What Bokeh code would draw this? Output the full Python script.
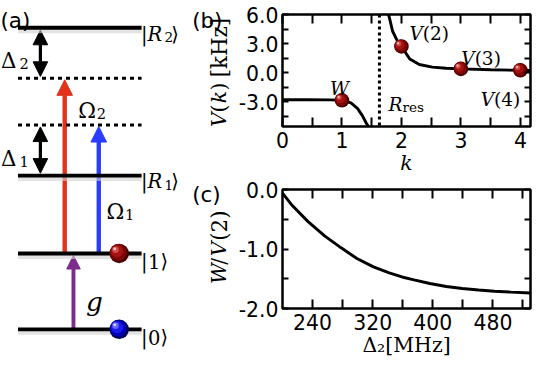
from math import pi
from bokeh.plotting import figure
from bokeh.models import (Range1d, FixedTicker, PrintfTickFormatter, LinearAxis,
                          Arrow, NormalHead, Span, CustomJSTickFormatter)
from bokeh.layouts import row, column
from bokeh.embed import file_html
from bokeh.resources import INLINE
from bokeh.core.properties import value

# ---------------- data ----------------
# panel (b): V(k) [kHz] versus k
k_left = [0.0, 0.4, 0.8, 1.0, 1.15, 1.26, 1.34, 1.41, 1.45]
V_left = [-2.78, -2.78, -2.80, -2.84, -3.10, -3.68, -4.39, -5.20, -5.60]
k_right = [1.77, 1.80, 1.85, 1.92, 2.00, 2.14, 2.30, 2.52, 2.75, 3.00, 3.50, 4.00, 4.20]
V_right = [6.30, 5.60, 4.30, 3.40, 2.71, 1.42, 0.85, 0.58, 0.47, 0.40, 0.30, 0.25, 0.23]
ball_k = [1, 2, 3, 4]
ball_V = [-2.84, 2.71, 0.40, 0.25]
R_res = 1.63
k_ticks = [0, 1, 2, 3, 4]
k_minor = [0.5, 1.5, 2.5, 3.5]
V_ticks = [-3.0, 0.0, 3.0, 6.0]
V_minor = [-4.5, -1.5, 1.5, 4.5]

# panel (c): W/V(2) versus Delta_2 [MHz]
delta2 = [200, 213, 234, 256, 278, 299, 321, 342, 359, 375, 396, 418, 439, 461, 482, 504, 530]
ratio = [-0.06, -0.27, -0.54, -0.78, -0.98, -1.16, -1.30, -1.40, -1.47, -1.52, -1.58,
         -1.63, -1.665, -1.69, -1.71, -1.725, -1.74]
d2_ticks = [240, 320, 400, 480]
d2_minor = [280, 360, 440, 520]
r_ticks = [-2.0, -1.0, 0.0]
r_minor = [-1.5, -0.5]

# panel (a): level scheme (diagram heights)
level_y = [340, 262, 182, 30]          # |0>, |1>, |R1>, |R2>
virtual_y = [130, 82]                  # detuned intermediate levels
ket_main = ["0", "1", "R", "R"]
ket_sub = ["", "", "1", "2"]

# ---------------- layout helpers ----------------
S = 359 / 369.0
RED, BLUE, PURPLE = "#e2321c", "#2a3cff", "#7b2d8e"
WA = 235          # left canvas (scheme + panel letters + y titles)
WR = 533 - WA     # right canvases
HB, HC = 177, 182


def fs(px):
    return f"{px * S:.1f}px"


def txt(fig, x, y, s, size, italic=False, align="left", font="DejaVu Serif",
        baseline="alphabetic", angle=0.0):
    fig.text(x=[x], y=[y], text=[s], text_font=value(font),
             text_font_size=value(fs(size)),
             text_font_style=value("italic" if italic else "normal"),
             text_align=value(align), text_baseline=value(baseline),
             angle=angle, text_color="black")


def balls(fig, xs, ys, d, px_x, px_y, cols):
    layers = [(1.0, 0.0), (0.86, 0.05), (0.62, 0.11), (0.34, 0.19), (0.14, 0.23)]
    for (f, off), c in zip(layers, cols):
        fig.scatter(x=[x - off * d / px_x for x in xs],
                    y=[y + off * d / px_y for y in ys],
                    size=d * f, marker="circle", fill_color=c, line_color=None)


RED_BALL = ["#4a0000", "#7e0505", "#a51212", "#cf5050", "#f6caca"]
BLUE_BALL = ["#00005a", "#0000b0", "#1a1af0", "#6a6aff", "#dcdcff"]


def style_axis(ax, tick_len, labels=True, standoff=5):
    ax.major_tick_in = tick_len
    ax.major_tick_out = 0
    ax.minor_tick_in = tick_len
    ax.minor_tick_out = 0
    ax.major_tick_line_width = 2
    ax.minor_tick_line_width = 2
    ax.axis_line_color = None
    if labels:
        ax.major_label_text_font = "DejaVu Sans"
        ax.major_label_text_font_size = fs(21)
        ax.major_label_standoff = standoff
        ax.major_label_text_color = "black"
    else:
        ax.formatter = CustomJSTickFormatter(code="return ''")
        ax.major_label_text_font_size = "1px"
        ax.major_label_standoff = 0


def framed(fig, xt, xm, yt, ym, xfmt, yfmt, xtitle):
    for loc in ["left", "right"]:
        ax = LinearAxis(ticker=FixedTicker(ticks=yt, minor_ticks=ym),
                        formatter=PrintfTickFormatter(format=yfmt))
        style_axis(ax, 6, labels=(loc == "left"), standoff=4)
        fig.add_layout(ax, loc)
    for loc in ["below", "above"]:
        ax = LinearAxis(ticker=FixedTicker(ticks=xt, minor_ticks=xm),
                        formatter=PrintfTickFormatter(format=xfmt))
        style_axis(ax, 9, labels=(loc == "below"), standoff=5)
        if loc == "below":
            ax.axis_label = xtitle
            ax.axis_label_text_font = "DejaVu Serif"
            ax.axis_label_text_font_size = fs(21)
            ax.axis_label_text_font_style = "italic" if xtitle == "k" else "normal"
            ax.axis_label_standoff = 0
            ax.axis_label_text_color = "black"
        fig.add_layout(ax, loc)
    fig.outline_line_color = "black"
    fig.outline_line_width = 2.5
    fig.outline_line_alpha = 1.0


# ---------------- left canvas: panel (a) + letters + y titles ----------------
pa = figure(width=WA, height=359, x_range=Range1d(2, 2 + WA / S),
            y_range=Range1d(2 + 359 / S, 2), output_backend="svg",
            toolbar_location=None, x_axis_location=None, y_axis_location=None,
            min_border=0, outline_line_color=None)
pa.grid.visible = False

X0, X1 = 20, 147
pa.segment(x0=X0, x1=X1, y0=[y + 2.5 for y in level_y], y1=[y + 2.5 for y in level_y],
           line_color="#d0d0d0", line_width=6, line_alpha=0.6)
pa.segment(x0=X0, x1=X1, y0=virtual_y, y1=virtual_y, line_color="black",
           line_width=3 * S, line_dash="4 4")

arrows = [
    (68, level_y[1], virtual_y[1] + 1.5, RED, 4.5, 16, False),
    (103, level_y[1], virtual_y[0] + 1.5, BLUE, 4.5, 16, False),
    (77, level_y[0], level_y[1] + 2, PURPLE, 4.0, 14, False),
    (43, level_y[3] + 2.5, virtual_y[1] - 2, "black", 3.3, 15, True),
    (43, virtual_y[0] + 2, level_y[2] - 2.5, "black", 3.3, 15, True),
]
for x, y0, y1, c, w, hs, both in arrows:
    head = NormalHead(size=hs * S, fill_color=c, line_color=c, line_width=1)
    start = NormalHead(size=hs * S, fill_color=c, line_color=c, line_width=1) if both else None
    pa.add_layout(Arrow(end=head, start=start, x_start=x, y_start=y0, x_end=x, y_end=y1,
                        line_color=c, line_width=w * S, level="underlay"))

pa.segment(x0=X0, x1=X1, y0=level_y, y1=level_y, line_color="black", line_width=4 * S)

balls(pa, [124], [level_y[1]], 20 * S, S, -S, RED_BALL)
balls(pa, [124], [level_y[0]], 20 * S, S, -S, BLUE_BALL)

for yl, m, sub in zip(level_y, ket_main, ket_sub):
    if sub:
        b = yl + 6.5
        txt(pa, 146.5, b, "|", 20)
        txt(pa, 153.0, b, m, 20, italic=True)
        txt(pa, 170.5, b + 3.5, sub, 14)
        txt(pa, 177.5, b, "\u27e9", 20)
    else:
        b = yl + 8
        txt(pa, 146.5, b, "|", 20)
        txt(pa, 153.5, b, m, 20)
        txt(pa, 166.5, b, "\u27e9", 20)

txt(pa, 2.5, 63.5, "\u0394", 22)
txt(pa, 21.5, 66.5, "2", 15)
txt(pa, 2.5, 164, "\u0394", 22)
txt(pa, 21.5, 167, "1", 15)
txt(pa, 82, 115.5, "\u03a9", 22)
txt(pa, 101, 118.5, "2", 15)
txt(pa, 111, 219, "\u03a9", 22)
txt(pa, 130, 222, "1", 15)
txt(pa, 90, 312, "g", 27, italic=True)

# panel letters
txt(pa, 2, 23, "(a)", 22, font="DejaVu Sans")
txt(pa, 199, 23, "(b)", 22, font="DejaVu Sans")
txt(pa, 199, 201, "(c)", 22, font="DejaVu Sans")

# rotated y titles (baseline at x=227, reading upwards)
XB = 227
for y0, s, it, sz in [(132, "V", True, 21), (117, "(", False, 21), (107.5, "k", True, 21),
                      (94.5, ")", False, 21), (81, "[kHz]", False, 22)]:
    txt(pa, XB, y0, s, sz, italic=it, angle=pi / 2)
for y0, s, it, sz in [(293.5, "W", True, 21), (273.5, "/", False, 21), (265, "V", True, 21),
                      (249, "(2)", False, 22)]:
    txt(pa, XB, y0, s, sz, italic=it, angle=pi / 2)

# ---------------- panel (b) ----------------
pb = figure(width=WR, height=HB, x_range=Range1d(0, 4.17), y_range=Range1d(-5.54, 6.0),
            output_backend="svg", toolbar_location=None,
            x_axis_location=None, y_axis_location=None,
            min_border_left=46, min_border_right=3, min_border_top=14, min_border_bottom=47)
pb.grid.visible = False
framed(pb, k_ticks, k_minor, V_ticks, V_minor, "%d", "%.1f", "k")

pb.add_layout(Span(location=R_res, dimension="height", line_color="black",
                   line_width=3, line_dash="3 3"))
pb.line(k_left, V_left, line_color="black", line_width=3 * S)
pb.line(k_right, V_right, line_color="black", line_width=3 * S)
balls(pb, ball_k, ball_V, 15 * S, 249 / 4.17, 116 / 11.54, RED_BALL)

txt(pb, 0.958, -1.61, "W", 19, italic=True, align="center")
for kj, yb, n in [(2.359, 4.006, "(2)"), (3.231, 1.46, "(3)"), (3.557, -2.74, "(4)")]:
    txt(pb, kj, yb, "V", 19, italic=True, align="right")
    txt(pb, kj, yb, n, 19)
txt(pb, 2.017, -3.225, "R", 19, italic=True, align="right")
txt(pb, 2.017, -3.545, "res", 14)

# ---------------- panel (c) ----------------
pc = figure(width=WR, height=HC, x_range=Range1d(200, 530), y_range=Range1d(-2.0, 0.0),
            output_backend="svg", toolbar_location=None,
            x_axis_location=None, y_axis_location=None,
            min_border_left=46, min_border_right=3, min_border_top=12, min_border_bottom=49)
pc.grid.visible = False
framed(pc, d2_ticks, d2_minor, r_ticks, r_minor, "%d", "%.1f", "\u0394\u2082[MHz]")
pc.line(delta2, ratio, line_color="black", line_width=3 * S)

layout = row(pa, column(pb, pc))
open("out.html", "w").write(file_html(layout, INLINE))
